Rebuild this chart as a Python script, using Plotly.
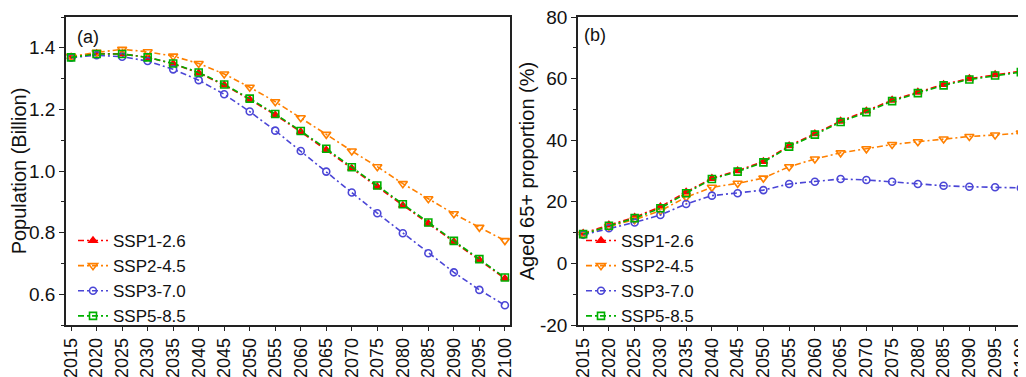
import plotly.graph_objects as go

years = list(range(2015, 2101, 5))

scenarios = ["SSP1-2.6", "SSP2-4.5", "SSP3-7.0", "SSP5-8.5"]

pop_ssp1 = [1.370, 1.381, 1.380, 1.369, 1.348, 1.318, 1.279, 1.232, 1.182, 1.127, 1.068, 1.008, 0.949, 0.888, 0.829, 0.770, 0.711, 0.651]
pop_ssp2 = [1.372, 1.385, 1.395, 1.387, 1.373, 1.349, 1.315, 1.272, 1.225, 1.173, 1.119, 1.065, 1.014, 0.959, 0.910, 0.861, 0.817, 0.774]
pop_ssp3 = [1.368, 1.376, 1.371, 1.357, 1.330, 1.295, 1.249, 1.193, 1.131, 1.065, 0.998, 0.930, 0.863, 0.798, 0.733, 0.671, 0.614, 0.564]
pop_ssp5 = [1.369, 1.380, 1.380, 1.369, 1.349, 1.320, 1.281, 1.235, 1.185, 1.130, 1.072, 1.012, 0.953, 0.892, 0.833, 0.773, 0.714, 0.654]

old_ssp1 = [9.8, 12.5, 15.0, 18.4, 23.2, 27.6, 30.1, 33.1, 38.2, 42.1, 46.2, 49.5, 53.0, 55.6, 58.1, 60.0, 61.3, 62.4]
old_ssp2 = [9.5, 12.0, 14.2, 17.1, 21.5, 24.7, 26.0, 27.7, 31.4, 33.9, 35.9, 37.2, 38.6, 39.5, 40.4, 41.2, 41.7, 42.3]
old_ssp3 = [9.3, 11.4, 13.3, 15.7, 19.3, 22.0, 22.8, 23.8, 25.8, 26.5, 27.4, 27.1, 26.5, 25.8, 25.2, 24.9, 24.7, 24.5]
old_ssp5 = [9.5, 12.2, 14.7, 17.9, 22.8, 27.4, 29.8, 32.8, 37.9, 41.8, 45.9, 49.1, 52.7, 55.3, 57.8, 59.7, 61.0, 62.1]

pop_ticks = [0.6, 0.8, 1.0, 1.2, 1.4]
old_ticks = [-20, 0, 20, 40, 60, 80]

pop_series = [pop_ssp1, pop_ssp2, pop_ssp3, pop_ssp5]
old_series = [old_ssp1, old_ssp2, old_ssp3, old_ssp5]

colors = ["#FF0000", "#FF8000", "#4B46D6", "#00B000"]
symbols = ["triangle-up", "triangle-down-open", "circle-open", "square-open"]
sizes = [7, 8, 7, 7]

FONT = "Liberation Sans, Arial, sans-serif"
DASH = "6px,3px,2px,3px"

# The page body has an 8px margin, so layout pixel positions are offset by -8.
OFF = 8
W, H = 1026, 377

def px_x(v):
    return (v - OFF) / W

def px_y(v):
    return 1 - (v - OFF) / H

fig = go.Figure()

for i, name in enumerate(scenarios):
    fig.add_trace(go.Scatter(
        x=years, y=pop_series[i], name=name, mode="lines+markers",
        line=dict(color=colors[i], width=1.6, dash=DASH),
        marker=dict(symbol=symbols[i], size=sizes[i], color=colors[i],
                    line=dict(color=colors[i], width=1.6)),
        xaxis="x", yaxis="y", legend="legend"))

for i, name in enumerate(scenarios):
    fig.add_trace(go.Scatter(
        x=years, y=old_series[i], name=name, mode="lines+markers",
        line=dict(color=colors[i], width=1.6, dash=DASH),
        marker=dict(symbol=symbols[i], size=sizes[i], color=colors[i],
                    line=dict(color=colors[i], width=1.6)),
        xaxis="x2", yaxis="y2", legend="legend2"))

ydom = [px_y(325), px_y(17)]

xaxis_common = dict(
    range=[2014, 2101], tickmode="array", tickvals=years,
    ticktext=[str(y) for y in years], tickangle=-90,
    showline=True, linecolor="#222", linewidth=1.5, mirror=True,
    ticks="outside", ticklen=4, tickwidth=1.2, tickcolor="#222",
    tickfont=dict(family=FONT, size=18, color="#111"),
    showgrid=False, zeroline=False, automargin=False,
    ticklabeloverflow="allow",
)

yaxis_common = dict(
    showline=True, linecolor="#222", linewidth=1.5, mirror=True,
    ticks="outside", ticklen=5, tickwidth=1.2, tickcolor="#222",
    tickfont=dict(family=FONT, size=19, color="#111"),
    showgrid=False, zeroline=False, automargin=False,
    ticklabeloverflow="allow",
)

fig.update_layout(
    width=W, height=H,
    margin=dict(l=0, r=0, t=0, b=0, autoexpand=False),
    paper_bgcolor="white", plot_bgcolor="white",
    font=dict(family=FONT, size=19, color="#111"),
    xaxis=dict(domain=[px_x(66), px_x(510)], anchor="y", **xaxis_common),
    xaxis2=dict(domain=[px_x(578), px_x(1026)], anchor="y2", **xaxis_common),
    yaxis=dict(domain=ydom, anchor="x", range=[0.5, 1.5], tickmode="array",
               tickvals=pop_ticks, ticktext=[f"{v:.1f}" for v in pop_ticks],
               minor=dict(dtick=0.1, tick0=0.5, ticks="outside", ticklen=3, tickcolor="#222"),
               title=dict(text="Population (Billion)", font=dict(family=FONT, size=20), standoff=14),
               **yaxis_common),
    yaxis2=dict(domain=ydom, anchor="x2", range=[-20, 80], tickmode="array",
                tickvals=old_ticks, ticktext=[str(v) for v in old_ticks],
                minor=dict(dtick=10, tick0=-20, ticks="outside", ticklen=3, tickcolor="#222"),
                title=dict(text="Aged 65+ proportion (%)", font=dict(family=FONT, size=20), standoff=0),
                **yaxis_common),
    legend=dict(x=px_x(73), y=px_y(223), xanchor="left", yanchor="top",
                bgcolor="rgba(0,0,0,0)", font=dict(family=FONT, size=17),
                tracegroupgap=0, itemwidth=30),
    legend2=dict(x=px_x(581), y=px_y(223), xanchor="left", yanchor="top",
                 bgcolor="rgba(0,0,0,0)", font=dict(family=FONT, size=17),
                 tracegroupgap=0, itemwidth=30),
    annotations=[
        dict(text="(a)", x=px_x(75), y=px_y(37), xref="paper", yref="paper",
             xanchor="left", yanchor="middle", showarrow=False,
             font=dict(family=FONT, size=18)),
        dict(text="(b)", x=px_x(582), y=px_y(35), xref="paper", yref="paper",
             xanchor="left", yanchor="middle", showarrow=False,
             font=dict(family=FONT, size=18)),
    ],
)

fig.write_html("out.html")
